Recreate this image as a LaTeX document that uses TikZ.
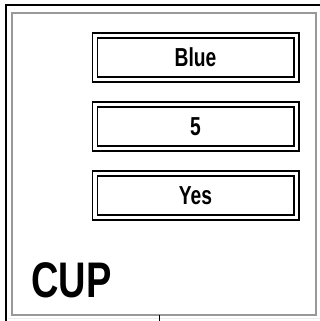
\documentclass[tikz,border=0pt]{standalone}
\usepackage{fontspec}
\newfontfamily\condfont{Liberation Sans}[FakeStretch=0.74]
\newfontfamily\titlefont{Liberation Sans}[FakeStretch=0.76]
\usetikzlibrary{positioning}
\tikzset{
    field/.style={draw=black,line width=1.5pt,double=white,double distance=3.5pt,
        minimum width=201.5pt,minimum height=44pt,inner sep=0pt,outer sep=0pt,
        text height=18pt,text depth=0pt,font=\condfont\bfseries\fontsize{26}{27}\selectfont},
}

\begin{document}
\begin{tikzpicture}[x=1pt,y=-1pt]
        \useasboundingbox (0,0) rectangle (320,321);
        % outer frame
        \draw[black,line width=1.5pt] (6,321) -- (6,5) -- (320,5);
        \draw[gray!80,line width=2pt] (12,13) rectangle (316,315);
        \draw[gray!15,line width=0.8pt] (8,318.5) -- (320,318.5);
        \coordinate (tick) at (159.5,315);
        \draw[black,line width=1.5pt] (tick) -- ++(0,6);
        % fields
        \node[field] (colour) at (195.5,57.5) {Blue};
        \node[field,below=25pt of colour] (size) {5};
        \node[field,below=25pt of size] (handle) {Yes};
        \node[anchor=base west,inner sep=0pt,font=\titlefont\bfseries\fontsize{50}{52}\selectfont] (name) at (31,297) {CUP};
    \end{tikzpicture}
\end{document}
